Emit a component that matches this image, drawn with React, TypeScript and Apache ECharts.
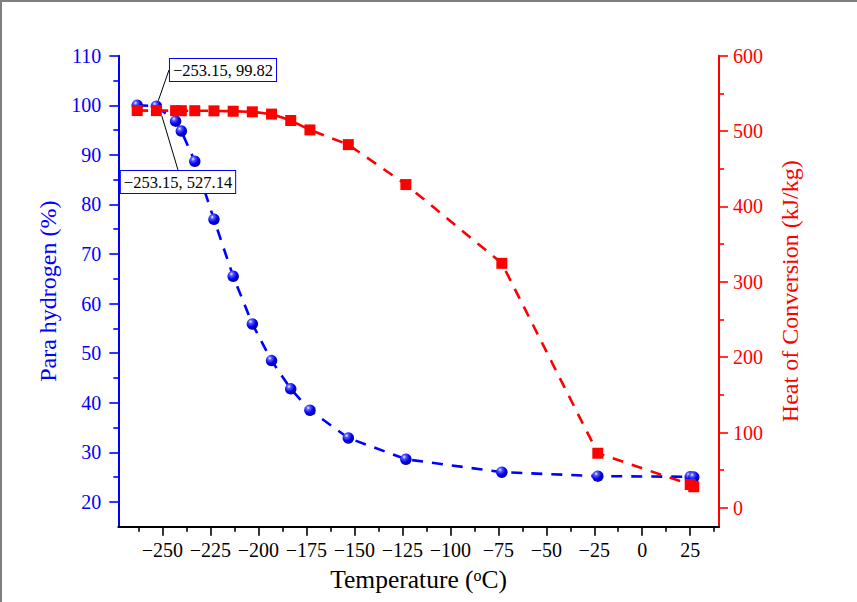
import React, { useEffect, useRef } from "react";
import * as echarts from "echarts";

// ---- data ----
const temperatures = [-263.15, -253.15, -243.15, -240.15, -233.15, -223.15, -213.15, -203.15, -193.15, -183.15, -173.15, -153.15, -123.15, -73.15, -23.15, 25, 26.85];
const paraHydrogen = [100.0, 99.82, 96.8, 94.8, 88.7, 77.0, 65.5, 55.9, 48.5, 42.8, 38.5, 32.9, 28.6, 26.0, 25.2, 25.07, 25.0];
const heatOfConversion = [527.2, 527.14, 527.1, 527.0, 527.0, 526.8, 526.3, 525.5, 522.5, 514, 501.5, 482, 429, 324.5, 72.5, 31, 28];

const xTicks = [-250, -225, -200, -175, -150, -125, -100, -75, -50, -25, 0, 25];
const xMinorTicks = [-262.5, -237.5, -212.5, -187.5, -162.5, -137.5, -112.5, -87.5, -62.5, -37.5, -12.5, 12.5, 37.5];
const leftTicks = [20, 30, 40, 50, 60, 70, 80, 90, 100, 110];
const leftMinorTicks = [25, 35, 45, 55, 65, 75, 85, 95, 105];
const rightTicks = [0, 100, 200, 300, 400, 500, 600];
const rightMinorTicks = [50, 150, 250, 350, 450, 550];

const annotatedIndex = 1;

const FONT = '"Liberation Serif", "Times New Roman", serif';
const BLUE = "#0000ff";
const RED = "#ff0000";

const minus = (v: number | string) => String(v).replace("-", "\u2212");

export default function App() {
  const ref = useRef<HTMLDivElement>(null);

  useEffect(() => {
    const chart = echarts.init(ref.current!, null, { renderer: "svg" });

    const sphere = new echarts.graphic.RadialGradient(0.35, 0.3, 0.75, [
      { offset: 0, color: "#f4f4ff" },
      { offset: 0.22, color: "#5a5aff" },
      { offset: 0.6, color: "#0000ee" },
      { offset: 1, color: "#000090" },
    ]);

    const annoLabel = {
      show: true,
      color: "#000",
      fontFamily: FONT,
      fontSize: 16.5,
      lineHeight: 17,
      backgroundColor: "#fff",
      borderColor: BLUE,
      borderWidth: 1,
      padding: [3, 3, 2, 3],
    };

    const blueData = temperatures.map((t, i) =>
      i === annotatedIndex
        ? {
            value: [t, paraHydrogen[i]],
            label: { ...annoLabel, formatter: (p: any) => `${minus(p.value[0])}, ${p.value[1]}` },
            labelLine: { show: true, lineStyle: { color: "#000", width: 1 } },
          }
        : [t, paraHydrogen[i]]
    );
    const redData = temperatures.map((t, i) =>
      i === annotatedIndex
        ? {
            value: [t, heatOfConversion[i]],
            label: { ...annoLabel, formatter: (p: any) => `${minus(p.value[0])}, ${p.value[1]}` },
            labelLine: { show: true, lineStyle: { color: "#000", width: 1 } },
          }
        : [t, heatOfConversion[i]]
    );

    const xMin = -273;
    const xMax = 40;
    const lMin = 15;
    const lMax = 110;
    const rMin = -25;
    const rMax = 600;

    const option: any = {
      animation: false,
      backgroundColor: "#fff",
      textStyle: { fontFamily: FONT },
      grid: { left: 118.3, right: 138, top: 55.7, bottom: 75.3, containLabel: false, outerBoundsMode: "none" },
      graphic: [
        { type: "line", shape: { x1: 0, y1: 1, x2: 857, y2: 1 }, style: { stroke: "#7f7f7f", lineWidth: 2 } },
        { type: "line", shape: { x1: 1, y1: 0, x2: 1, y2: 602 }, style: { stroke: "#7f7f7f", lineWidth: 2 } },
      ],
      xAxis: [
        {
          type: "value",
          min: xMin,
          max: xMax,
          position: "bottom",
          name: "Temperature ({sup|o}C)",
          nameLocation: "middle",
          nameGap: 40,
          nameTextStyle: {
            fontFamily: FONT,
            fontSize: 25.5,
            color: "#000",
            rich: {
              sup: { fontFamily: FONT, fontSize: 16, verticalAlign: "top", color: "#000", padding: [1, 0, 0, 0] },
            },
          },
          axisLine: { show: true, onZero: false, lineStyle: { color: "#000", width: 2 } },
          axisTick: { show: true, inside: false, length: 9, customValues: xTicks, lineStyle: { color: "#000", width: 1.6 } },
          axisLabel: {
            show: true,
            customValues: xTicks,
            margin: 13,
            fontFamily: FONT,
            fontSize: 20,
            color: "#000",
            formatter: (v: number) => minus(v),
          },
          splitLine: { show: false },
        },
        {
          type: "value",
          min: xMin,
          max: xMax,
          position: "bottom",
          axisLine: { show: false, onZero: false },
          axisTick: { show: true, inside: false, length: 5, customValues: xMinorTicks, lineStyle: { color: "#000", width: 1.6 } },
          axisLabel: { show: false },
          splitLine: { show: false },
        },
      ],
      yAxis: [
        {
          type: "value",
          min: lMin,
          max: lMax,
          position: "left",
          name: "Para hydrogen (%)",
          nameLocation: "middle",
          nameRotate: 90,
          nameGap: 48,
          nameTextStyle: { fontFamily: FONT, fontSize: 24, color: BLUE },
          axisLine: { show: true, onZero: false, lineStyle: { color: BLUE, width: 2 } },
          axisTick: { show: true, inside: false, length: 9, customValues: leftTicks, lineStyle: { color: BLUE, width: 1.6 } },
          axisLabel: { show: true, customValues: leftTicks, margin: 17, fontFamily: FONT, fontSize: 20, color: BLUE },
          splitLine: { show: false },
        },
        {
          type: "value",
          min: rMin,
          max: rMax,
          position: "right",
          name: "Heat of Conversion (kJ/kg)",
          nameLocation: "middle",
          nameRotate: 90,
          nameGap: 59,
          nameTextStyle: { fontFamily: FONT, fontSize: 24, color: RED },
          axisLine: { show: true, onZero: false, lineStyle: { color: RED, width: 2 } },
          axisTick: { show: true, inside: false, length: 9, customValues: rightTicks, lineStyle: { color: RED, width: 1.6 } },
          axisLabel: { show: true, customValues: rightTicks, margin: 14, fontFamily: FONT, fontSize: 20, color: RED },
          splitLine: { show: false },
        },
        {
          type: "value",
          min: lMin,
          max: lMax,
          position: "left",
          axisLine: { show: false, onZero: false },
          axisTick: { show: true, inside: false, length: 5, customValues: leftMinorTicks, lineStyle: { color: BLUE, width: 1.6 } },
          axisLabel: { show: false },
          splitLine: { show: false },
        },
        {
          type: "value",
          min: rMin,
          max: rMax,
          position: "right",
          axisLine: { show: false, onZero: false },
          axisTick: { show: true, inside: false, length: 5, customValues: rightMinorTicks, lineStyle: { color: RED, width: 1.6 } },
          axisLabel: { show: false },
          splitLine: { show: false },
        },
      ],
      series: [
        {
          name: "Para hydrogen",
          type: "line",
          xAxisIndex: 0,
          yAxisIndex: 0,
          data: blueData,
          symbol: "circle",
          symbolSize: 11.5,
          itemStyle: { color: sphere, borderWidth: 0 },
          lineStyle: { color: BLUE, width: 2.6, type: [11, 9] },
          label: { show: false },
          labelLayout: (p: any) =>
            p.dataIndex === annotatedIndex ? { x: 223, y: 70, align: "center", verticalAlign: "middle" } : {},
          emphasis: { disabled: true },
          z: 3,
        },
        {
          name: "Heat of Conversion",
          type: "line",
          xAxisIndex: 0,
          yAxisIndex: 1,
          data: redData,
          symbol: "rect",
          symbolSize: 11,
          itemStyle: { color: RED, borderWidth: 0 },
          lineStyle: { color: RED, width: 2.6, type: [11, 9] },
          label: { show: false },
          labelLayout: (p: any) =>
            p.dataIndex === annotatedIndex ? { x: 178, y: 182, align: "center", verticalAlign: "middle" } : {},
          emphasis: { disabled: true },
          z: 4,
        },
      ],
    };

    chart.setOption(option);
    return () => chart.dispose();
  }, []);

  return (
    <div
      ref={ref}
      style={{ position: "fixed", left: 0, top: 0, width: 857, height: 602, background: "#fff" }}
    />
  );
}
